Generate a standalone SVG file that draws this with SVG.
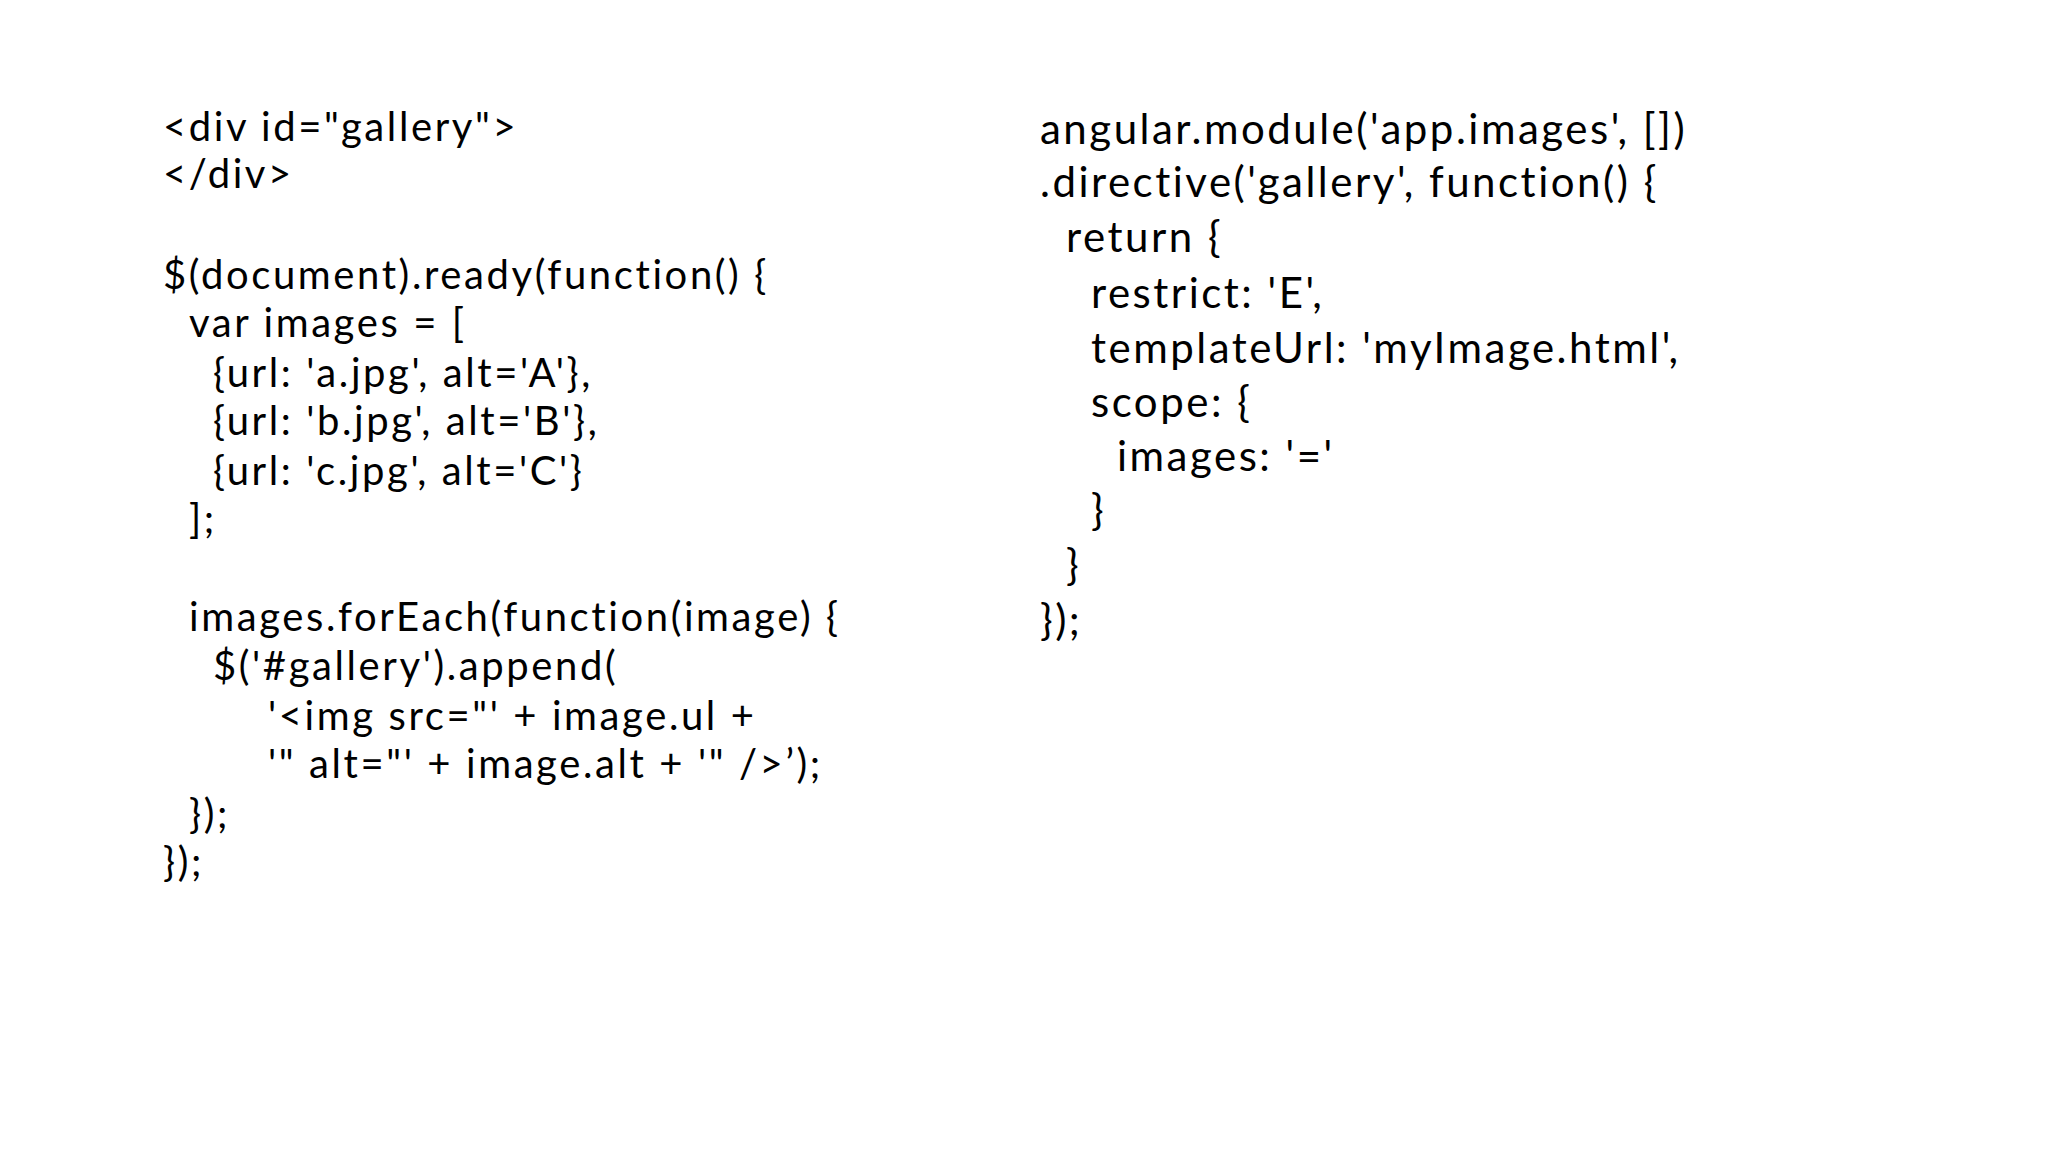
<svg xmlns="http://www.w3.org/2000/svg" width="2048" height="1152" viewBox="0 0 2048 1152">
<style>
text{font-family:Lato,"Open Sans",sans-serif;fill:#000;white-space:pre;letter-spacing:2.6px}
.l{font-size:40px}.r{font-size:42px;letter-spacing:2.5px}
</style>
<rect width="2048" height="1152" fill="#fff"/>
<g id="jquery">
<text class="l" x="163" y="141">&lt;div id="gallery"&gt;</text>
<text class="l" x="163" y="188">&lt;/div&gt;</text>
<text class="l" x="163" y="289">$(document).ready(function() {</text>
<text class="l" x="189" y="337">var images = [</text>
<text class="l" x="213" y="387">{url: 'a.jpg', alt='A'},</text>
<text class="l" x="213" y="435">{url: 'b.jpg', alt='B'},</text>
<text class="l" x="213" y="485">{url: 'c.jpg', alt='C'}</text>
<text class="l" x="189" y="533">];</text>
<text class="l" x="189" y="631">images.forEach(function(image) {</text>
<text class="l" x="213" y="680">$('#gallery').append(</text>
<text class="l" x="268" y="730">'&lt;img src="' + image.ul +</text>
<text class="l" x="268" y="778">'" alt="' + image.alt + '" /&gt;’);</text>
<text class="l" x="189" y="828">});</text>
<text class="l" x="163" y="876">});</text>
</g>
<g id="angular">
<text class="r" x="1040" y="144">angular.module('app.images', [])</text>
<text class="r" x="1040" y="197">.directive('gallery', function() {</text>
<text class="r" x="1066" y="252">return {</text>
<text class="r" x="1091" y="308">restrict: 'E',</text>
<text class="r" x="1091" y="363">templateUrl: 'myImage.html',</text>
<text class="r" x="1091" y="417">scope: {</text>
<text class="r" x="1117" y="471">images: '='</text>
<text class="r" x="1091" y="525">}</text>
<text class="r" x="1066" y="580">}</text>
<text class="r" x="1040" y="635">});</text>
</g>
</svg>
